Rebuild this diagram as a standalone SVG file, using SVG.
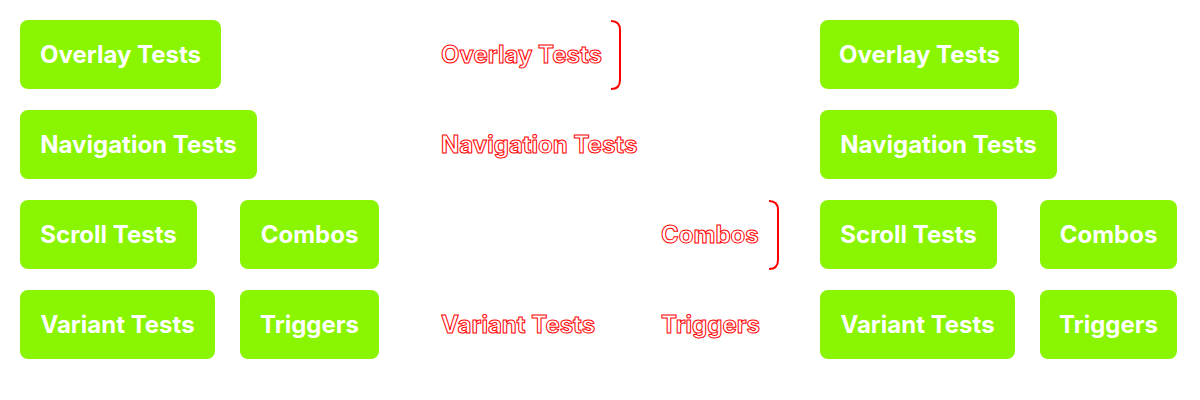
<svg xmlns="http://www.w3.org/2000/svg" width="1200" height="400" viewBox="0 0 1200 400">
<style>
.box{fill:#8af500}
.lbl{font-family:Inter,"Liberation Sans",sans-serif;font-weight:700;font-size:24px;fill:#fff;text-anchor:middle;dominant-baseline:central}
.ghost{font-family:Inter,"Liberation Sans",sans-serif;font-weight:700;font-size:24px;fill:#fff;stroke:#ff0000;stroke-width:1;dominant-baseline:central}
.br{fill:none;stroke:#ff0000;stroke-width:2}
</style>
<rect width="1200" height="400" fill="#fff"/>
<g id="left-overlay"><rect class="box" x="20" y="20" width="201" height="69" rx="8"/><text class="lbl" x="120.5" y="54.5">Overlay Tests</text></g>
<g id="left-navigation"><rect class="box" x="20" y="110" width="237" height="69" rx="8"/><text class="lbl" x="138.5" y="144.5">Navigation Tests</text></g>
<g id="left-scroll"><rect class="box" x="20" y="200" width="177" height="69" rx="8"/><text class="lbl" x="108.5" y="234.5">Scroll Tests</text></g>
<g id="left-combos"><rect class="box" x="240" y="200" width="139" height="69" rx="8"/><text class="lbl" x="309.5" y="234.5">Combos</text></g>
<g id="left-variant"><rect class="box" x="20" y="290" width="195" height="69" rx="8"/><text class="lbl" x="117.5" y="324.5">Variant Tests</text></g>
<g id="left-triggers"><rect class="box" x="240" y="290" width="139" height="69" rx="8"/><text class="lbl" x="309.5" y="324.5">Triggers</text></g>

<g id="mid-overlay"><text class="ghost" x="441" y="54.5">Overlay Tests</text></g>
<g id="mid-navigation"><text class="ghost" x="441" y="144.5">Navigation Tests</text></g>
<g id="mid-combos"><text class="ghost" x="661" y="234.5">Combos</text></g>
<g id="mid-variant"><text class="ghost" x="441" y="324.5">Variant Tests</text></g>
<g id="mid-triggers"><text class="ghost" x="661" y="324.5">Triggers</text></g>

<g id="connectors">
<path class="br" d="M611 21 Q620 21 620 30 L620 80 Q620 89 611 89"/>
<path class="br" d="M769 201 Q778 201 778 210 L778 260 Q778 269 769 269"/>
</g>

<g id="right-overlay"><rect class="box" x="820" y="20" width="199" height="69" rx="8"/><text class="lbl" x="919.5" y="54.5">Overlay Tests</text></g>
<g id="right-navigation"><rect class="box" x="820" y="110" width="237" height="69" rx="8"/><text class="lbl" x="938.5" y="144.5">Navigation Tests</text></g>
<g id="right-scroll"><rect class="box" x="820" y="200" width="177" height="69" rx="8"/><text class="lbl" x="908.5" y="234.5">Scroll Tests</text></g>
<g id="right-combos"><rect class="box" x="1040" y="200" width="137" height="69" rx="8"/><text class="lbl" x="1108.5" y="234.5">Combos</text></g>
<g id="right-variant"><rect class="box" x="820" y="290" width="195" height="69" rx="8"/><text class="lbl" x="917.5" y="324.5">Variant Tests</text></g>
<g id="right-triggers"><rect class="box" x="1040" y="290" width="137" height="69" rx="8"/><text class="lbl" x="1108.5" y="324.5">Triggers</text></g>
</svg>
